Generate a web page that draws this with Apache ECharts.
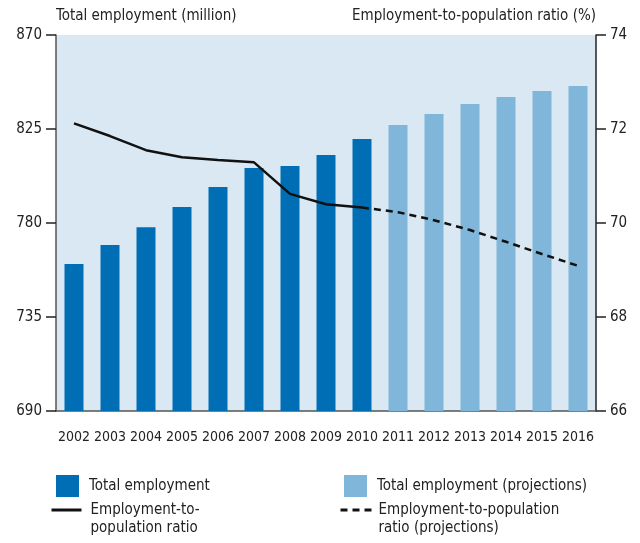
<!DOCTYPE html>
<html lang="en">
<head>
    <meta charset="UTF-8">
    <title>Total employment and employment-to-population ratio</title>
    <script src="https://cdn.jsdelivr.net/npm/echarts@6/dist/echarts.min.js"></script>
    <style>
        html, body { margin: 0; padding: 0; background: #fff; }
        #chart { width: 640px; height: 543px; }
    </style>
</head>
<body>
    <div id="chart"></div>

    <script>
        // data
        const years = ['2002', '2003', '2004', '2005', '2006', '2007', '2008', '2009',
                       '2010', '2011', '2012', '2013', '2014', '2015', '2016'];
        const employment = [760.4, 769.5, 778, 787.7, 797.2, 806.3, 807.3, 812.6, 820.2,
                            '-', '-', '-', '-', '-', '-'];
        const employmentProj = ['-', '-', '-', '-', '-', '-', '-', '-', '-',
                                826.9, 832.2, 837, 840.3, 843.2, 845.6];
        const ratio = [72.12, 71.85, 71.55, 71.4, 71.34, 71.29, 70.62, 70.4, 70.33,
                       '-', '-', '-', '-', '-', '-'];
        const ratioProj = ['-', '-', '-', '-', '-', '-', '-', '-', 70.33,
                           70.23, 70.06, 69.85, 69.6, 69.34, 69.09];
        const leftTicks = [690, 735, 780, 825, 870];

        const font = "'Liberation Sans Narrow', 'DejaVu Sans Condensed', 'Roboto Condensed', sans-serif";
        const dark = '#006eb5';
        const light = '#80b6da';

        const chart = echarts.init(document.getElementById('chart'));

        const legendBase = {
            orient: 'vertical',
            selectedMode: false,
            padding: 0,
            textStyle: { fontFamily: font, fontSize: 15, color: '#222', lineHeight: 18 }
        };

        // blank first line so the line icon sits level with the first text line
        const lineLegendText = function (name) { return '\n' + name; };

        chart.setOption({
            animation: false,
            textStyle: { fontFamily: font },
            grid: {
                left: 56, right: 44, top: 35, bottom: 132,
                outerBoundsMode: 'none',
                containLabel: false,
                show: true, backgroundColor: '#d9e8f3', borderWidth: 0
            },
            legend: [
                Object.assign({}, legendBase, {
                    data: [{ name: 'Total employment', icon: 'rect' }], left: 56, top: 475,
                    itemWidth: 23, itemHeight: 22,
                    textStyle: Object.assign({}, legendBase.textStyle, { padding: [0, 0, 0, 5] })
                }),
                Object.assign({}, legendBase, {
                    data: [{ name: 'Total employment (projections)', icon: 'rect' }], left: 344, top: 475,
                    itemWidth: 23, itemHeight: 22,
                    textStyle: Object.assign({}, legendBase.textStyle, { padding: [0, 0, 0, 5] })
                }),
                Object.assign({}, legendBase, {
                    data: ['Employment-to-\npopulation ratio'], left: 50, top: 483,
                    itemWidth: 30, itemHeight: 14,
                    itemStyle: { opacity: 0 },
                    lineStyle: { width: 3 },
                    formatter: lineLegendText,
                    textStyle: Object.assign({}, legendBase.textStyle, { padding: [0, 0, 0, 4] })
                }),
                Object.assign({}, legendBase, {
                    data: ['Employment-to-population\nratio (projections)'], left: 339, top: 483,
                    itemWidth: 31, itemHeight: 14,
                    itemStyle: { opacity: 0 },
                    lineStyle: { width: 3 },
                    formatter: lineLegendText,
                    textStyle: Object.assign({}, legendBase.textStyle, { padding: [0, 0, 0, 2] })
                })
            ],
            xAxis: {
                type: 'category',
                data: years,
                axisLine: { show: true, lineStyle: { color: '#555', width: 1.5 } },
                axisTick: { show: false },
                axisLabel: { fontSize: 14, color: '#222', margin: 19, interval: 0 }
            },
            yAxis: [
                {
                    type: 'value',
                    min: 690, max: 870,
                    position: 'left',
                    name: 'Total employment (million)',
                    nameLocation: 'end',
                    nameGap: 11,
                    nameTextStyle: { fontSize: 15, color: '#222', align: 'left' },
                    splitLine: { show: false },
                    axisLine: { show: true, lineStyle: { color: '#555', width: 1.5 } },
                    axisTick: { show: true, length: 10, customValues: leftTicks, lineStyle: { color: '#222', width: 1.5 } },
                    axisLabel: { fontSize: 15, color: '#222', margin: 14, customValues: leftTicks }
                },
                {
                    type: 'value',
                    min: 66, max: 74, interval: 2,
                    position: 'right',
                    name: 'Employment-to-population ratio (%)',
                    nameLocation: 'end',
                    nameGap: 11,
                    nameTextStyle: { fontSize: 15, color: '#222', align: 'right' },
                    splitLine: { show: false },
                    axisLine: { show: true, lineStyle: { color: '#222', width: 1.5 } },
                    axisTick: { show: true, length: 10, lineStyle: { color: '#222', width: 1.5 } },
                    axisLabel: { fontSize: 15, color: '#222', margin: 14 }
                }
            ],
            series: [
                {
                    name: 'Total employment',
                    type: 'bar',
                    stack: 'emp',
                    barWidth: 19,
                    itemStyle: { color: dark },
                    data: employment
                },
                {
                    name: 'Total employment (projections)',
                    type: 'bar',
                    stack: 'emp',
                    barWidth: 19,
                    itemStyle: { color: light },
                    data: employmentProj
                },
                {
                    name: 'Employment-to-\npopulation ratio',
                    type: 'line',
                    yAxisIndex: 1,
                    symbol: 'none',
                    lineStyle: { color: '#111', width: 2.5 },
                    itemStyle: { color: '#111' },
                    data: ratio
                },
                {
                    name: 'Employment-to-population\nratio (projections)',
                    type: 'line',
                    yAxisIndex: 1,
                    symbol: 'none',
                    lineStyle: { color: '#111', width: 2.5, type: [7, 5] },
                    itemStyle: { color: '#111' },
                    data: ratioProj
                }
            ]
        });
    </script>
</body>
</html>
